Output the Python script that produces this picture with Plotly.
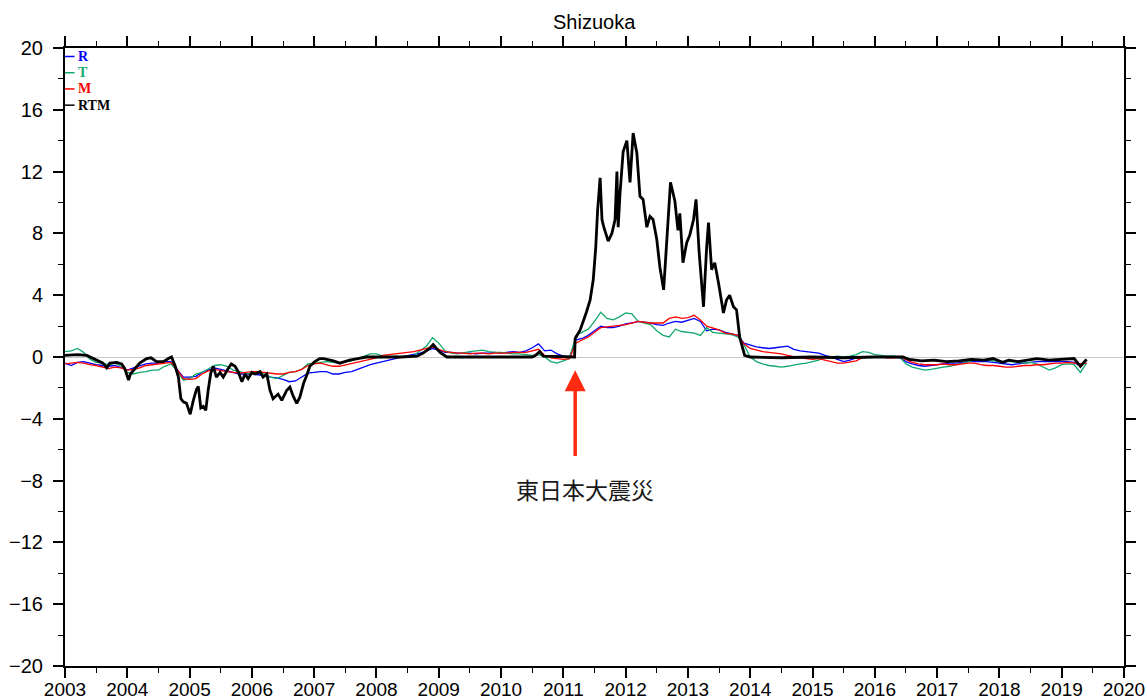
import plotly.graph_objects as go

# ---- time grid for R, T, M (decimal years) ----
years = [
    2003.0, 2003.1, 2003.2, 2003.3, 2003.4, 2003.5, 2003.6, 2003.7, 2003.8, 2003.9,
    2004.0, 2004.1, 2004.2, 2004.3, 2004.4, 2004.5, 2004.6, 2004.7, 2004.8, 2004.9,
    2005.0, 2005.1, 2005.2, 2005.3, 2005.4, 2005.5, 2005.6, 2005.7, 2005.8, 2005.9,
    2006.0, 2006.1, 2006.2, 2006.3, 2006.4, 2006.5, 2006.6, 2006.7, 2006.8, 2006.9,
    2007.0, 2007.1, 2007.2, 2007.3, 2007.4, 2007.5, 2007.6, 2007.7, 2007.8, 2007.9,
    2008.0, 2008.1, 2008.2, 2008.3, 2008.4, 2008.5, 2008.6, 2008.7, 2008.8, 2008.9,
    2009.0, 2009.1, 2009.2, 2009.3, 2009.4, 2009.5, 2009.6, 2009.7, 2009.8, 2009.9,
    2010.0, 2010.1, 2010.2, 2010.3, 2010.4, 2010.5, 2010.6, 2010.7, 2010.8, 2010.9,
    2011.0, 2011.1, 2011.2, 2011.3, 2011.4, 2011.5, 2011.6, 2011.7, 2011.8, 2011.9,
    2012.0, 2012.1, 2012.2, 2012.3, 2012.4, 2012.5, 2012.6, 2012.7, 2012.8, 2012.9,
    2013.0, 2013.1, 2013.2, 2013.3, 2013.4, 2013.5, 2013.6, 2013.7, 2013.8, 2013.9,
    2014.0, 2014.1, 2014.2, 2014.3, 2014.4, 2014.5, 2014.6, 2014.7, 2014.8, 2014.9,
    2015.0, 2015.1, 2015.2, 2015.3, 2015.4, 2015.5, 2015.6, 2015.7, 2015.8, 2015.9,
    2016.0, 2016.1, 2016.2, 2016.3, 2016.4, 2016.5, 2016.6, 2016.7, 2016.8, 2016.9,
    2017.0, 2017.1, 2017.2, 2017.3, 2017.4, 2017.5, 2017.6, 2017.7, 2017.8, 2017.9,
    2018.0, 2018.1, 2018.2, 2018.3, 2018.4, 2018.5, 2018.6, 2018.7, 2018.8, 2018.9,
    2019.0, 2019.1, 2019.2, 2019.3, 2019.4,
]

r_values = [
    -0.4, -0.55, -0.35, -0.3, -0.4, -0.5, -0.55, -0.6, -0.55, -0.7,
    -0.85, -0.7, -0.6, -0.45, -0.4, -0.4, -0.3, -0.3, -0.8, -1.3,
    -1.3, -1.25, -1.0, -0.85, -0.7, -0.8, -0.9, -1.0, -1.1, -1.1,
    -1.1, -1.15, -1.2, -1.3, -1.35, -1.45, -1.6, -1.55, -1.3, -1.05,
    -1.0, -0.95, -0.95, -1.1, -1.1, -1.0, -0.95, -0.8, -0.6, -0.5,
    -0.4, -0.3, -0.25, -0.1, 0.0, 0.1, 0.2, 0.25, 0.4, 0.55,
    0.45, 0.3, 0.3, 0.25, 0.25, 0.25, 0.2, 0.25, 0.25, 0.3,
    0.25, 0.3, 0.35, 0.3, 0.4, 0.6, 0.85, 0.4, 0.45, 0.2,
    0.05, 0.0, 1.1, 1.2, 1.4, 1.7, 2.0, 1.9, 1.9, 2.0,
    2.15, 2.2, 2.3, 2.25, 2.2, 2.1, 2.05, 2.2, 2.3, 2.25,
    2.35, 2.5, 2.3, 1.7, 1.8, 1.75, 1.6, 1.5, 1.4, 0.9,
    0.75, 0.65, 0.6, 0.55, 0.6, 0.65, 0.7, 0.5, 0.4, 0.35,
    0.3, 0.25, 0.1, 0.0, -0.15, -0.3, -0.2, -0.05, 0.0, 0.0,
    0.0, 0.0, 0.0, 0.0, -0.05, -0.3, -0.45, -0.55, -0.6, -0.55,
    -0.5, -0.45, -0.4, -0.4, -0.35, -0.3, -0.3, -0.3, -0.3, -0.35,
    -0.4, -0.45, -0.5, -0.45, -0.4, -0.35, -0.3, -0.3, -0.3, -0.3,
    -0.3, -0.3, -0.35, -0.6, -0.2,
]

t_values = [
    0.35, 0.4, 0.55, 0.3, -0.15, -0.35, -0.4, -0.5, -0.4, -0.6,
    -1.0, -1.1, -1.0, -0.95, -0.85, -0.85, -0.6, -0.45, -0.9, -1.5,
    -1.4, -1.1, -1.0, -0.8, -0.55, -0.5, -0.6, -0.85, -0.95, -1.05,
    -1.1, -1.05, -1.1, -1.3, -1.4, -1.2, -1.0, -0.95, -0.8, -0.45,
    -0.4, -0.35, -0.3, -0.35, -0.4, -0.3, -0.25, -0.1, 0.05, 0.2,
    0.2, 0.05, 0.0, 0.05, 0.0, 0.05, 0.1, 0.4, 0.7, 1.25,
    0.9, 0.4, 0.25, 0.2, 0.3, 0.35, 0.4, 0.45, 0.35, 0.3,
    0.3, 0.25, 0.2, 0.2, 0.15, 0.1, 0.15, 0.0, -0.3, -0.4,
    -0.25, -0.1, 1.4, 1.6, 1.8, 2.3, 2.9, 2.5, 2.4, 2.6,
    2.85, 2.8, 2.3, 2.2, 2.1, 1.7, 1.4, 1.3, 1.8, 1.65,
    1.6, 1.55, 1.4, 1.9, 1.6, 1.55, 1.5, 1.45, 1.3, 0.8,
    0.0, -0.3, -0.45, -0.55, -0.6, -0.65, -0.6, -0.5, -0.45, -0.4,
    -0.3, -0.2, 0.0, 0.0, 0.05, 0.0, 0.05, 0.15, 0.35, 0.3,
    0.15, 0.1, 0.05, 0.05, 0.0, -0.45, -0.65, -0.75, -0.85, -0.8,
    -0.7, -0.65, -0.6, -0.5, -0.4, -0.3, -0.2, -0.2, -0.2, -0.25,
    -0.3, -0.3, -0.3, -0.35, -0.4, -0.35, -0.45, -0.65, -0.85, -0.7,
    -0.5, -0.45, -0.5, -1.0, -0.4,
]

m_values = [
    -0.45, -0.4, -0.35, -0.4, -0.5, -0.55, -0.65, -0.75, -0.65, -0.7,
    -0.85, -0.8, -0.7, -0.55, -0.5, -0.45, -0.4, -0.35, -0.8, -1.4,
    -1.45, -1.4, -1.1, -0.9, -0.8, -0.9, -0.95, -1.0, -1.05, -1.0,
    -0.95, -0.95, -1.0, -1.05, -1.1, -1.1, -1.0, -0.95, -0.8, -0.55,
    -0.45, -0.4, -0.5, -0.6, -0.6, -0.5, -0.4, -0.35, -0.25, -0.15,
    -0.05, 0.1, 0.15, 0.2, 0.25, 0.3, 0.35, 0.45, 0.55, 0.65,
    0.5, 0.35, 0.3, 0.25, 0.25, 0.2, 0.25, 0.25, 0.2, 0.25,
    0.25, 0.25, 0.3, 0.3, 0.3, 0.4, 0.5, 0.1, -0.05, -0.1,
    -0.15, -0.1, 0.9, 1.1, 1.3, 1.6, 1.9, 1.95, 2.0, 2.05,
    2.1, 2.2, 2.3, 2.25, 2.2, 2.2, 2.2, 2.5, 2.6, 2.5,
    2.55, 2.7, 2.4, 2.0, 1.9, 1.75, 1.55, 1.5, 1.4, 0.85,
    0.55, 0.45, 0.35, 0.3, 0.25, 0.2, 0.1, 0.0, -0.05, -0.1,
    -0.15, -0.1, -0.2, -0.3, -0.4, -0.4, -0.3, -0.25, -0.05, 0.0,
    0.0, 0.0, -0.05, -0.05, 0.0, -0.2, -0.35, -0.45, -0.5, -0.5,
    -0.5, -0.45, -0.5, -0.5, -0.45, -0.4, -0.4, -0.5, -0.55, -0.55,
    -0.6, -0.65, -0.65, -0.6, -0.55, -0.55, -0.5, -0.5, -0.45, -0.4,
    -0.4, -0.35, -0.4, -0.45, -0.4,
]

# ---- RTM (own, irregular sampling) ----
rtm_years = [
    2003.0, 2003.2, 2003.35, 2003.45, 2003.55, 2003.61, 2003.67, 2003.72, 2003.83, 2003.91,
    2003.96, 2004.02, 2004.05, 2004.12, 2004.2, 2004.31, 2004.38, 2004.47, 2004.58, 2004.66,
    2004.71, 2004.77, 2004.82, 2004.86, 2004.9, 2004.95, 2005.01, 2005.06, 2005.11, 2005.14,
    2005.18, 2005.22, 2005.26, 2005.3, 2005.34, 2005.38, 2005.43, 2005.49, 2005.54, 2005.62,
    2005.67, 2005.73, 2005.78, 2005.84, 2005.89, 2005.94, 2006.0, 2006.05, 2006.13, 2006.18,
    2006.24, 2006.29, 2006.34, 2006.42, 2006.48, 2006.56, 2006.61, 2006.66, 2006.72, 2006.77,
    2006.83, 2006.88, 2006.93, 2007.01, 2007.09, 2007.15, 2007.31, 2007.41, 2007.57, 2007.7,
    2007.84, 2008.0, 2008.4, 2008.65, 2008.75, 2008.85, 2008.91, 2009.02, 2009.13, 2009.5,
    2010.0, 2010.5, 2010.55, 2010.62, 2010.68, 2011.0, 2011.18, 2011.19, 2011.27, 2011.37,
    2011.43, 2011.48, 2011.52, 2011.55, 2011.59, 2011.62, 2011.65, 2011.72, 2011.78, 2011.83,
    2011.86, 2011.88, 2011.91, 2011.96, 2012.02, 2012.07, 2012.12, 2012.18, 2012.23, 2012.28,
    2012.34, 2012.39, 2012.44, 2012.5, 2012.55, 2012.61, 2012.68, 2012.72, 2012.79, 2012.84,
    2012.87, 2012.92, 2012.98, 2013.03, 2013.09, 2013.13, 2013.18, 2013.25, 2013.3, 2013.33,
    2013.38, 2013.43, 2013.49, 2013.57, 2013.62, 2013.67, 2013.73, 2013.78, 2013.83, 2013.91,
    2014.0, 2014.5, 2015.0, 2015.5, 2016.0, 2016.45, 2016.55, 2016.75, 2016.95, 2017.15,
    2017.35, 2017.55, 2017.75, 2017.9, 2018.05, 2018.15, 2018.3, 2018.45, 2018.6, 2018.8,
    2019.0, 2019.2, 2019.3, 2019.4,
]
rtm_values = [
    0.1, 0.15, 0.1, -0.1, -0.3, -0.4, -0.7, -0.4, -0.35, -0.45,
    -0.75, -1.5, -1.1, -0.8, -0.4, -0.1, -0.05, -0.3, -0.3, -0.1,
    0.0, -0.6, -1.3, -2.7, -2.9, -3.0, -3.7, -2.8, -2.1, -1.9,
    -3.3, -3.2, -3.45, -2.1, -1.05, -0.6, -1.3, -1.0, -1.3, -0.75,
    -0.45, -0.6, -0.95, -1.6, -1.1, -1.4, -1.0, -1.1, -0.95, -1.3,
    -1.1, -2.15, -2.7, -2.4, -2.8, -2.15, -1.95, -2.5, -3.0, -2.6,
    -1.7, -1.2, -0.6, -0.3, -0.1, -0.1, -0.25, -0.4, -0.2, -0.1,
    0.0, 0.0, 0.0, 0.05, 0.25, 0.55, 0.8, 0.3, 0.0, 0.0,
    0.0, 0.0, 0.1, 0.35, 0.05, 0.0, 0.0, 1.2, 1.75, 2.9,
    3.7, 5.0, 7.1, 9.5, 11.6, 8.9, 8.4, 7.5, 8.0, 8.9,
    12.0, 8.4, 10.6, 13.3, 14.0, 11.3, 14.5, 13.2, 10.4, 10.2,
    8.4, 9.1, 8.9, 7.6, 5.8, 4.35, 8.9, 11.3, 10.1, 8.2,
    9.3, 6.1, 7.4, 7.9, 8.9, 10.2, 6.75, 3.25, 7.1, 8.7,
    5.65, 6.1, 4.8, 2.85, 3.7, 4.0, 3.25, 3.05, 1.3, 0.1,
    0.0, -0.05, 0.0, -0.05, 0.0, 0.0, -0.15, -0.25, -0.2, -0.3,
    -0.25, -0.15, -0.2, -0.1, -0.35, -0.2, -0.3, -0.2, -0.1, -0.2,
    -0.15, -0.1, -0.6, -0.15,
]

series_names = ["R", "T", "M", "RTM"]
series_colors = ["#0000ff", "#12a86c", "#ff0000", "#000000"]

event_year = 2011.19
event_label = "東日本大震災"
x_ticks = list(range(2003, 2021))
y_ticks = list(range(-20, 21, 4))

fig = go.Figure()
for name, ys, col in zip(series_names[:3], [r_values, t_values, m_values], series_colors[:3]):
    fig.add_trace(go.Scatter(x=years, y=ys, mode="lines", name=name,
                             line=dict(color=col, width=1.3), showlegend=False))
fig.add_trace(go.Scatter(x=rtm_years, y=rtm_values, mode="lines", name="RTM",
                         line=dict(color=series_colors[3], width=2.8), showlegend=False))

# custom legend (top-left, inside the frame)
legend_y = [19.45, 18.4, 17.35, 16.3]
for name, col, ly in zip(series_names, series_colors, legend_y):
    fig.add_shape(type="line", xref="paper", yref="y", x0=0, x1=0.009, y0=ly, y1=ly,
                  line=dict(color=col, width=1.5))
    fig.add_annotation(xref="paper", yref="y", x=0.011, y=ly, text="<b>%s</b>" % name,
                       showarrow=False, xanchor="left", yanchor="middle", borderpad=0,
                       font=dict(family="Liberation Serif, Times New Roman, serif", size=14, color=col))

# event arrow and label
fig.add_annotation(x=event_year, y=-0.85, ax=event_year, ay=-6.5, axref="x", ayref="y",
                   xref="x", yref="y", text="", showarrow=True, arrowhead=2,
                   arrowsize=1.2, arrowwidth=3.5, arrowcolor="#ff2a10")
fig.add_annotation(x=2011.35, y=-8.55, text=event_label, showarrow=False,
                   font=dict(family="Noto Sans CJK JP", size=23, color="#1a1a1a"))

axis_common = dict(showline=True, linecolor="black", linewidth=2, mirror="ticks",
                   ticks="outside", tickcolor="black", tickwidth=1.5, ticklen=10,
                   showgrid=False, automargin=False)

fig.update_xaxes(range=[2003, 2020], tickvals=x_ticks, zeroline=False, ticklabelstandoff=-5,
                 tickfont=dict(family="Liberation Sans, Arial, sans-serif", size=19, color="black"),
                 minor=dict(dtick=0.5, tick0=2003, ticks="outside", ticklen=5, tickcolor="black", tickwidth=1.2),
                 **axis_common)
fig.update_yaxes(range=[-20, 20], tickvals=y_ticks, zeroline=True, zerolinecolor="#c8c8c8", zerolinewidth=1,
                 ticklabelstandoff=6,
                 tickfont=dict(family="Liberation Sans, Arial, sans-serif", size=20, color="black"),
                 minor=dict(dtick=2, tick0=0, ticks="outside", ticklen=5, tickcolor="black", tickwidth=1.2),
                 **axis_common)

fig.update_layout(
    width=1147, height=700,
    margin=dict(l=65, r=23, t=48, b=34),
    paper_bgcolor="white", plot_bgcolor="white",
    title=dict(text="Shizuoka", x=0.518, xanchor="center", y=0.968, yanchor="middle",
               automargin=False,
               font=dict(family="Liberation Sans, Arial, sans-serif", size=20, color="black")),
)

fig.write_html("out.html", config={"displayModeBar": False},
               post_script="document.body.style.margin='0';document.body.style.overflow='hidden';")
